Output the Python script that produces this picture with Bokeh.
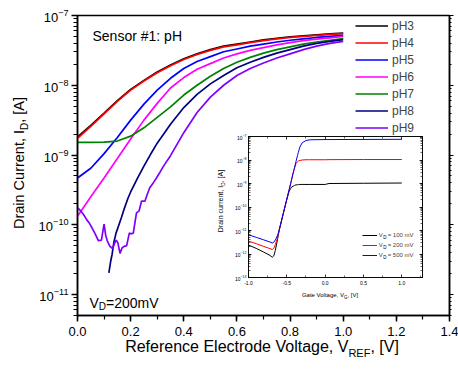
import math
from bokeh.plotting import figure
from bokeh.models import (Label, Legend, LegendItem, LogAxis, LinearAxis, Div,
                          FixedTicker, LogTicker, PrintfTickFormatter)
from bokeh.layouts import column
from bokeh.embed import file_html
from bokeh.resources import INLINE

FONT = "Liberation Sans"

# ---------------- data (log10 of drain current in A) ----------------
x_common = [0.0, 0.05, 0.1, 0.15, 0.2, 0.25, 0.3, 0.35, 0.4, 0.45, 0.5,
            0.55, 0.6, 0.65, 0.7, 0.75, 0.8, 0.85, 0.9, 0.95, 1.0]
ph3_log = [-8.74, -8.575, -8.40, -8.22, -8.06, -7.93, -7.81, -7.71, -7.62, -7.55, -7.49,
           -7.44, -7.41, -7.38, -7.35, -7.327, -7.307, -7.292, -7.277, -7.263, -7.252]
ph4_log = [-8.76, -8.59, -8.41, -8.23, -8.07, -7.94, -7.82, -7.72, -7.63, -7.56, -7.50,
           -7.45, -7.42, -7.39, -7.36, -7.335, -7.315, -7.30, -7.285, -7.27, -7.26]
ph5_log = [-9.33, -9.19, -8.98, -8.75, -8.50, -8.27, -8.07, -7.90, -7.76, -7.66, -7.59,
           -7.52, -7.48, -7.44, -7.41, -7.38, -7.355, -7.335, -7.315, -7.30, -7.285]
ph6_log = [-9.88, -9.60, -9.33, -9.05, -8.77, -8.50, -8.26, -8.04, -7.89, -7.77, -7.69,
           -7.61, -7.55, -7.50, -7.46, -7.42, -7.39, -7.36, -7.34, -7.32, -7.30]
ph7_log = [-8.82, -8.82, -8.815, -8.80, -8.73, -8.61, -8.46, -8.31, -8.14, -8.00, -7.87,
           -7.76, -7.67, -7.60, -7.54, -7.49, -7.45, -7.41, -7.38, -7.355, -7.33]
ph8_x = [0.118, 0.125, 0.13, 0.137, 0.145, 0.155, 0.165, 0.175, 0.19, 0.2, 0.225, 0.25,
         0.275, 0.3, 0.35, 0.4, 0.45, 0.5, 0.55, 0.6, 0.65, 0.7, 0.75, 0.8, 0.85, 0.9,
         0.95, 1.0]
ph8_log = [-10.69, -10.52, -10.43, -10.25, -10.12, -10.01, -9.90, -9.78, -9.62, -9.53,
           -9.34, -9.16, -8.99, -8.83, -8.56, -8.32, -8.13, -7.98, -7.86, -7.75, -7.67,
           -7.60, -7.54, -7.49, -7.44, -7.40, -7.37, -7.345]
ph9_x = [0.0, 0.012, 0.022, 0.035, 0.045, 0.054, 0.065, 0.079, 0.09, 0.1, 0.106, 0.112,
         0.122, 0.132, 0.14, 0.146, 0.152, 0.16, 0.168, 0.176, 0.185, 0.195, 0.203, 0.21,
         0.222, 0.232, 0.241, 0.254, 0.263, 0.272, 0.285, 0.297, 0.31, 0.322, 0.35, 0.4,
         0.45, 0.5, 0.55, 0.6, 0.65, 0.7, 0.75, 0.8, 0.85, 0.9, 0.95, 1.0]
ph9_log = [-9.755, -9.80, -9.85, -9.93, -9.98, -10.04, -10.12, -10.23, -10.22, -9.99,
           -10.15, -10.23, -10.31, -10.34, -10.26, -10.22, -10.26, -10.41, -10.33, -10.31,
           -10.30, -10.12, -10.13, -10.12, -9.83, -9.80, -9.66, -9.66, -9.56, -9.47, -9.40,
           -9.33, -9.25, -9.17, -9.01, -8.68, -8.39, -8.17, -8.00, -7.86, -7.76, -7.68,
           -7.61, -7.55, -7.49, -7.44, -7.40, -7.37]

series_names = ["pH3", "pH4", "pH5", "pH6", "pH7", "pH8", "pH9"]
series_colors = ["#000000", "#FF0000", "#0000FF", "#FF00FF", "#008000", "#000080", "#8000FF"]
series_x = [x_common, x_common, x_common, x_common, x_common, ph8_x, ph9_x]
series_log = [ph3_log, ph4_log, ph5_log, ph6_log, ph7_log, ph8_log, ph9_log]

# inset: transfer curves, drain current vs gate voltage
in_x = [-1.0, -0.9, -0.8, -0.72, -0.69, -0.67, -0.65, -0.62, -0.6, -0.55, -0.5, -0.47,
        -0.45, -0.44, -0.41, -0.40, -0.38, -0.36, -0.35, -0.33, -0.3, -0.25, -0.2, 0.0,
        0.05, 0.5, 1.0]
vd100_log = [-11.62, -11.76, -11.92, -12.06, -12.14, -12.08, -11.85, -11.35, -11.0, -10.33,
             -9.68, -9.33, -9.22, -9.16, -9.10, -9.08, -9.06, -9.05, -9.05, -9.04, -9.04,
             -9.04, -9.04, -9.04, -9.0, -8.99, -8.98]
vd200_log = [-11.45, -11.56, -11.68, -11.77, -11.81, -11.76, -11.6, -11.3, -11.0, -10.33,
             -9.67, -9.27, -9.0, -8.87, -8.45, -8.35, -8.15, -8.07, -8.04, -8.02, -8.0,
             -7.99, -7.99, -7.99, -7.985, -7.98, -7.98]
vd500_log = [-11.18, -11.29, -11.40, -11.49, -11.53, -11.5, -11.4, -11.2, -10.98, -10.32,
             -9.66, -9.26, -9.0, -8.86, -8.46, -8.33, -8.06, -7.8, -7.68, -7.45, -7.27,
             -7.17, -7.14, -7.13, -7.13, -7.125, -7.12]
inset_names = ["V\u00a0\u00a0\u00a0= 100 mV", "V\u00a0\u00a0\u00a0= 200 mV", "V\u00a0\u00a0\u00a0= 500 mV"]
inset_colors = ["#000000", "#FF0000", "#0000FF"]
inset_logs = [vd100_log, vd200_log, vd500_log]

# ---------------- helpers ----------------
W = {' ': 278, ',': 278, '-': 333, '.': 278, ':': 278, '=': 584, '#': 556, '[': 278, ']': 278,
     'A': 667, 'C': 722, 'D': 722, 'E': 667, 'F': 611, 'G': 778, 'H': 722, 'I': 278,
     'R': 722, 'S': 667, 'V': 667, 'a': 556, 'c': 500, 'd': 556, 'e': 556, 'f': 278,
     'g': 556, 'i': 222, 'l': 222, 'm': 833, 'n': 556, 'o': 556, 'p': 556, 'r': 333,
     's': 500, 't': 278, 'u': 556}


def tw(s, size):
    return sum(W.get(ch, 556) for ch in s) / 1000.0 * size


def sub_label(fig, x, y, parts):
    """in-frame label with subscripts; x = left edge, y = baseline (screen, frame-relative)"""
    pos = 0.0
    for t, s, d in parts:
        fig.add_layout(Label(x=x + pos, y=y - d, x_units="screen", y_units="screen", text=t,
                             text_font=FONT, text_font_size=f"{s}px", text_align="left",
                             text_baseline="alphabetic", text_color="black"))
        pos += tw(t, s)


def html_label(main, sub, tail, fs, sub_fs, sub_drop, cx, cy, width, lh, rotate=False):
    html = (f'<span style="font-family:\'{FONT}\';font-size:{fs}px;line-height:{lh}px;'
            f'color:black;white-space:nowrap">{main}<span style="font-size:{sub_fs}px;'
            f'line-height:0;vertical-align:-{sub_drop}px">{sub}</span>{tail}</span>')
    st = {"position": "absolute", "left": f"{cx - width / 2:.1f}px",
          "top": f"{cy - lh / 2:.1f}px", "text-align": "center", "line-height": f"{lh}px",
          "font-size": f"{fs}px", "font-family": FONT, "white-space": "nowrap"}
    if rotate:
        st["transform"] = "rotate(-90deg)"
        st["transform-origin"] = "50% 50%"
    return Div(text=html, width=width, height=lh, margin=0, styles=st)


# ---------------- main figure ----------------
p = figure(width=458, height=369, x_range=(0, 1.4), y_range=(5e-12, 1e-7),
           y_axis_type="log", output_backend="svg", toolbar_location=None, title=None,
           min_border_left=77, min_border_right=9, min_border_top=15, min_border_bottom=54)
p.grid.visible = False
p.outline_line_color = "black"
p.outline_line_width = 1.5
p.background_fill_color = "white"
p.border_fill_color = "white"

xa = p.xaxis[0]
xa.ticker = FixedTicker(ticks=[round(i * 0.2, 1) for i in range(8)],
                        minor_ticks=[round(i * 0.1, 1) for i in range(15)])
xa.formatter = PrintfTickFormatter(format="%.1f")
ya = p.yaxis[0]
ya.ticker = LogTicker(desired_num_ticks=6, num_minor_ticks=10)
for ax in (xa, ya):
    ax.axis_line_width = 1.5
    ax.major_tick_line_width = 1.5
    ax.minor_tick_line_width = 1.2
    ax.major_tick_in = 0
    ax.major_tick_out = 6
    ax.minor_tick_in = 0
    ax.minor_tick_out = 4
    ax.major_label_text_font = FONT
    ax.major_label_text_font_size = "13px"
    ax.major_label_text_color = "black"
xa.major_label_standoff = 5
ya.major_label_standoff = 3

ra = LogAxis(ticker=LogTicker(desired_num_ticks=6, num_minor_ticks=10))
ra.axis_line_width = 1.5
ra.major_tick_in = 0
ra.major_tick_out = 4
ra.minor_tick_in = 0
ra.minor_tick_out = 2
ra.major_label_text_font_size = "1px"
ra.major_label_text_color = None
ra.major_label_standoff = 0
p.add_layout(ra, "right")

items = []
for name, xs, lg, col in zip(series_names, series_x, series_log, series_colors):
    r = p.line(xs, [10 ** v for v in lg], line_color=col, line_width=1.7)
    items.append(LegendItem(label=name, renderers=[r]))

leg = Legend(items=items, location=(278, 180), padding=0, spacing=2, margin=0,
             glyph_width=33, glyph_height=15, label_height=15, label_standoff=4,
             label_text_font=FONT, label_text_font_size="12px",
             border_line_color=None, background_fill_alpha=0)
p.add_layout(leg)

# in-frame texts (screen coords relative to main frame bottom-left)
sub_label(p, 15, 280, [("Sensor #1: pH", 14, 0)])
sub_label(p, 12, 13, [("V", 14, 0), ("D", 10, 4), ("=200mV", 14, 0)])

# ---------------- inset figure ----------------
ins = figure(width=260, height=171, x_range=(-1.0, 1.27), y_range=(1e-13, 1e-7),
             y_axis_type="log", output_backend="svg", toolbar_location=None, title=None,
             min_border_left=77, min_border_right=9, min_border_top=4, min_border_bottom=26)
ins.grid.visible = False
ins.outline_line_color = "black"
ins.outline_line_width = 0.8
ins.background_fill_color = "white"
ins.border_fill_alpha = 0

ixa = ins.xaxis[0]
ixa.ticker = FixedTicker(ticks=[-1.0, -0.5, 0.0, 0.5, 1.0],
                         minor_ticks=[-0.75, -0.25, 0.25, 0.75, 1.25])
ixa.formatter = PrintfTickFormatter(format="%.1f")
iya = ins.yaxis[0]
iya.ticker = LogTicker(desired_num_ticks=7, num_minor_ticks=10)
itop = LinearAxis(ticker=FixedTicker(ticks=[-1.0, -0.5, 0.0, 0.5, 1.0],
                                     minor_ticks=[-0.75, -0.25, 0.25, 0.75, 1.25]))
iright = LogAxis(ticker=LogTicker(desired_num_ticks=7, num_minor_ticks=10))
for ax in (itop, iright):
    ax.major_label_text_font_size = "1px"
    ax.major_label_text_color = None
    ax.major_label_standoff = 0
ins.add_layout(itop, "above")
ins.add_layout(iright, "right")
for ax in (ixa, iya, itop, iright):
    ax.axis_line_width = 0.8
    ax.major_tick_line_width = 0.8
    ax.minor_tick_line_width = 0.6
    ax.major_tick_in = 3
    ax.major_tick_out = 0
    ax.minor_tick_in = 2
    ax.minor_tick_out = 0
    ax.major_label_text_font = FONT
for ax in (ixa, iya):
    ax.major_label_text_color = "black"
    ax.major_label_text_font_size = "5px"
ixa.major_label_standoff = 3
iya.major_label_standoff = 2

iitems = []
for name, lg, col in zip(inset_names, inset_logs, inset_colors):
    r = ins.line(in_x, [10 ** v for v in lg], line_color=col, line_width=1.0)
    iitems.append(LegendItem(label=name, renderers=[r]))
ileg = Legend(items=iitems, location=(113.7, 18), padding=0, spacing=2, margin=0,
              glyph_width=15, glyph_height=8, label_height=8, label_standoff=2,
              label_text_font=FONT, label_text_font_size="6px",
              border_line_color=None, background_fill_alpha=0)
ins.add_layout(ileg)
for i in range(3):
    cy = 18 + 28 - 4 - 10 * i
    ins.add_layout(Label(x=113.7 + 15 + 2 + tw("V", 6), y=cy - 2.0, x_units="screen",
                         y_units="screen", text="D", text_font=FONT, text_font_size="4.5px",
                         text_align="left", text_baseline="middle", text_color="black"))

# positions of the inset on the page
ins.styles = {"position": "absolute", "left": "171px", "top": "132px"}

# axis titles with subscripts (HTML text)
xlab = html_label("Reference Electrode Voltage, V", "REF", ", [V]", 16, 11, 5,
                  262, 347, 330, 20)
ylab = html_label("Drain Current, I", "D", ", [A]", 14.5, 10, 4,
                  19, 163, 240, 20, rotate=True)
ixlab = html_label("Gate Voltage, V", "G", ", [V]", 6, 4.5, 1.5,
                   330, 295, 110, 8)
iylab = html_label("Drain current, I", "D", ", [A]", 7, 5, 1.8,
                   220.6, 201, 90, 8, rotate=True)

lay = column(p, ins, xlab, ylab, ixlab, iylab)
lay.styles = {"position": "relative"}

open("out.html", "w").write(file_html(lay, INLINE))
